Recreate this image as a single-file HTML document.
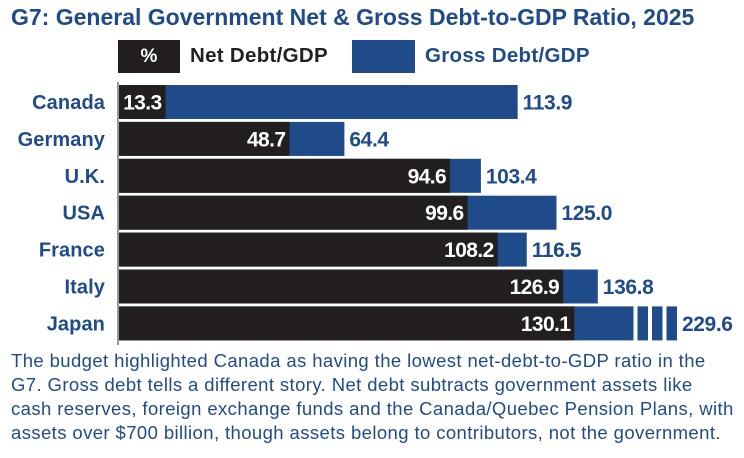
<!DOCTYPE html>
<html><head><meta charset="utf-8"><style>
body{margin:0;background:#fff;font-family:"Liberation Sans",sans-serif}
#wrap{position:relative;width:744px;height:458px;overflow:hidden}
.t{position:absolute;white-space:nowrap}
</style></head><body>
<div id="wrap">
<div class="t" style="left:11px;top:4px;font-size:23px;font-weight:bold;color:#1f4b8a;letter-spacing:0px">G7: General Government Net &amp; Gross Debt-to-GDP Ratio, 2025</div>
<div style="position:absolute;left:118px;top:40px;width:62px;height:33px;background:#231f20;color:#fff;font-weight:bold;font-size:19px;text-align:center;line-height:33px">%</div>
<div class="t" style="left:190px;top:44px;font-size:20.5px;font-weight:bold;color:#231f20;letter-spacing:0.3px">Net Debt/GDP</div>
<div style="position:absolute;left:352px;top:40px;width:63px;height:33px;background:#1f4b8a"></div>
<div class="t" style="left:425px;top:44px;font-size:20.5px;font-weight:bold;color:#1f4b8a;letter-spacing:0.3px">Gross Debt/GDP</div>
<svg id="plot" width="744" height="458" style="position:absolute;left:0;top:0"></svg>
<div class="t" style="left:11px;top:349px;font-size:18.5px;line-height:24px;color:#1f4b8a;letter-spacing:0.4px">The budget highlighted Canada as having the lowest net-debt-to-GDP ratio in the<br>G7. Gross debt tells a different story. Net debt subtracts government assets like<br>cash reserves, foreign exchange funds and the Canada/Quebec Pension Plans, with<br>assets over $700 billion, though assets belong to contributors, not the government.</div>
</div>
<script>
const countries=["Canada","Germany","U.K.","USA","France","Italy","Japan"];
const netDebt=[13.3,48.7,94.6,99.6,108.2,126.9,130.1];
const grossDebt=[113.9,64.4,103.4,125.0,116.5,136.8,229.6];
const CAP=147;
const x0=119, k=3.5;
function xs(v){return x0+Math.min(v,CAP)*k;}
function ys(i){return 85+i*36.9;}
const BH=34;
const svg=document.getElementById('plot');
const NS="http://www.w3.org/2000/svg";
function mk(tag,attrs){const e=document.createElementNS(NS,tag);for(const a in attrs)e.setAttribute(a,attrs[a]);svg.appendChild(e);return e;}
countries.forEach((c,i)=>{
  const y=ys(i);
  const g=mk('rect',{x:x0,y:y,width:xs(grossDebt[i])-x0,height:BH,fill:'#1f4b8a'});
  
  
  let end=xs(grossDebt[i]);
  if(grossDebt[i]>CAP){
    for(let j=0;j<3;j++){
      const b=mk('rect',{x:end+4+j*14.5,y:y,width:10.5,height:BH,fill:'#1f4b8a'});
      
      
    }
    end=end+4+2*14.5+10.5;
  }
  const n=mk('rect',{x:x0,y:y,width:xs(netDebt[i])-x0,height:BH,fill:'#231f20'});
  
  
  const nt=mk('text',{x:xs(netDebt[i])-4,y:y+BH/2+7.5,'text-anchor':'end','font-size':21,'font-weight':'bold',fill:'#fff','font-family':'Liberation Sans, sans-serif','letter-spacing':'-0.6'});
  nt.textContent=netDebt[i].toFixed(1);
  
  
  const gt=mk('text',{x:end+5,y:y+BH/2+7.5,'font-size':21,'font-weight':'bold',fill:'#1f4b8a','font-family':'Liberation Sans, sans-serif','letter-spacing':'-0.4'});
  gt.textContent=grossDebt[i].toFixed(1);
  
  
  const ct=mk('text',{x:105,y:y+BH/2+7,'text-anchor':'end','font-size':20,'font-weight':'bold',fill:'#1f4b8a','font-family':'Liberation Sans, sans-serif','letter-spacing':'0.1'});
  ct.textContent=c;
  
  
});
const ax=mk('line',{x1:118,y1:82,x2:118,y2:345,stroke:'#777','stroke-width':1.5});


</script>
</body></html>
